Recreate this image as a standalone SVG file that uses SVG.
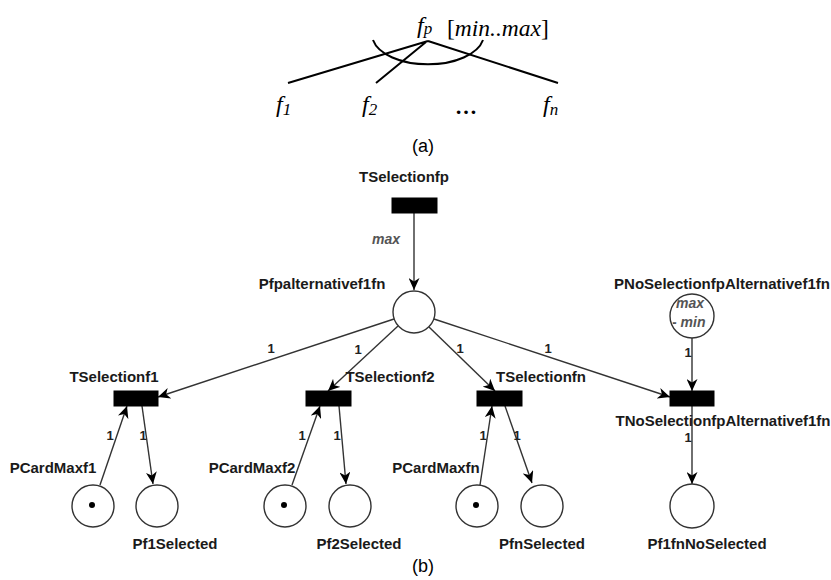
<svg xmlns="http://www.w3.org/2000/svg" width="831" height="580" viewBox="0 0 831 580">
<style>
.tm{font-family:"Liberation Serif","Times New Roman",serif;font-style:italic;fill:#000}
.tl{stroke:#000;stroke-width:2;fill:none}
.lbl{font-family:"Liberation Sans",Arial,sans-serif;font-weight:bold;font-size:15px;fill:#1a1a1a;text-anchor:middle}
.one{font-family:"Liberation Sans",Arial,sans-serif;font-weight:bold;font-size:13px;fill:#222;text-anchor:middle}
.gi{font-family:"Liberation Sans",Arial,sans-serif;font-weight:bold;font-style:italic;font-size:14px;fill:#555}
.pl{fill:#fff;stroke:#333;stroke-width:1.4}
.tr{fill:#000;stroke:#000;stroke-width:1}
.arc{stroke:#333;stroke-width:1.4;fill:none;marker-end:url(#ah)}
.cap{font-family:"Liberation Sans",Arial,sans-serif;font-size:18px;fill:#000;text-anchor:middle}
</style>
<defs>
<marker id="ah" markerUnits="userSpaceOnUse" markerWidth="13" markerHeight="11" refX="12" refY="5.5" orient="auto">
<path d="M0,0 L12,5.5 L0,11 L3.5,5.5 z" fill="#000"/>
</marker>
<clipPath id="pnclip"><circle cx="692" cy="316" r="21"/></clipPath>
</defs>

<g id="feature-model">
<text class="tm" x="417" y="33" font-size="24">f<tspan font-size="17" dy="1">p</tspan></text>
<text class="tm" x="447" y="36" font-size="23.5"><tspan font-style="normal">[</tspan>min..max<tspan font-style="normal">]</tspan></text>
<path class="tl" d="M428,41 L288,83 M426,42 L376,83 M428,41 L558,83"/>
<path class="tl" d="M373,40 A56,30 0 0 0 483,40"/>
<text class="tm" x="276" y="112" font-size="24">f<tspan font-size="17" dy="3">1</tspan></text>
<text class="tm" x="362" y="112" font-size="24">f<tspan font-size="17" dy="3">2</tspan></text>
<text x="466" y="114" font-family="Liberation Serif,serif" font-weight="bold" font-size="22" text-anchor="middle">…</text>
<text class="tm" x="543" y="112" font-size="24">f<tspan font-size="17" dy="3">n</tspan></text>
<text class="cap" x="423" y="152">(a)</text>
</g>

<g id="connectors">
<path class="arc" d="M414,213 L414,290"/>
<path class="arc" d="M394,319 L158,397"/>
<path class="arc" d="M398,326 L328,391"/>
<path class="arc" d="M429,327 L495,391"/>
<path class="arc" d="M434,319 L670,397"/>
<path class="arc" d="M692,338 L692,391"/>
<path class="arc" d="M692,406 L692,484"/>
<path class="arc" d="M100,485 L127,406"/>
<path class="arc" d="M142,406 L153,484"/>
<path class="arc" d="M292,485 L320,406"/>
<path class="arc" d="M339,406 L346,484"/>
<path class="arc" d="M480,485 L492,406"/>
<path class="arc" d="M505,406 L532,483"/>
<text class="gi" x="372" y="244">max</text>
<text class="one" x="271" y="353">1</text>
<text class="one" x="358" y="354">1</text>
<text class="one" x="460" y="353">1</text>
<text class="one" x="548" y="353">1</text>
<text class="one" x="688" y="357">1</text>
<text class="one" x="688" y="442">1</text>
<text class="one" x="110" y="440">1</text>
<text class="one" x="143" y="440">1</text>
<text class="one" x="302" y="440">1</text>
<text class="one" x="337" y="440">1</text>
<text class="one" x="483" y="440">1</text>
<text class="one" x="517" y="440">1</text>
</g>

<g id="TSelectionfp">
<rect class="tr" x="392" y="198" width="45" height="15"/>
<text class="lbl" x="404" y="182">TSelectionfp</text>
</g>
<g id="Pfpalternativef1fn">
<circle class="pl" cx="414" cy="312" r="21"/>
<text class="lbl" x="322" y="289">Pfpalternativef1fn</text>
</g>
<g id="PNoSelectionfpAlternativef1fn">
<circle class="pl" cx="692" cy="316" r="22"/>
<g clip-path="url(#pnclip)">
<text class="gi" x="676" y="308">max</text>
<text class="gi" x="672" y="327">- min</text>
</g>
<text class="lbl" x="722" y="289">PNoSelectionfpAlternativef1fn</text>
</g>
<g id="TSelectionf1">
<rect class="tr" x="114" y="391" width="44" height="15"/>
<text class="lbl" x="114" y="382">TSelectionf1</text>
</g>
<g id="TSelectionf2">
<rect class="tr" x="306" y="391" width="45" height="15"/>
<text class="lbl" x="390" y="382">TSelectionf2</text>
</g>
<g id="TSelectionfn">
<rect class="tr" x="477" y="391" width="45" height="15"/>
<text class="lbl" x="541" y="382">TSelectionfn</text>
</g>
<g id="TNoSelectionfpAlternativef1fn">
<rect class="tr" x="670" y="391" width="44" height="15"/>
<text class="lbl" x="723" y="426">TNoSelectionfpAlternativef1fn</text>
</g>
<g id="PCardMaxf1">
<circle class="pl" cx="93" cy="506" r="21"/>
<circle cx="92" cy="505" r="3" fill="#000"/>
<text class="lbl" x="53" y="473">PCardMaxf1</text>
</g>
<g id="Pf1Selected">
<circle class="pl" cx="157" cy="506" r="21"/>
<text class="lbl" x="175" y="549">Pf1Selected</text>
</g>
<g id="PCardMaxf2">
<circle class="pl" cx="285" cy="506" r="21"/>
<circle cx="284" cy="505" r="3" fill="#000"/>
<text class="lbl" x="252" y="473">PCardMaxf2</text>
</g>
<g id="Pf2Selected">
<circle class="pl" cx="350" cy="506" r="21"/>
<text class="lbl" x="359" y="549">Pf2Selected</text>
</g>
<g id="PCardMaxfn">
<circle class="pl" cx="477" cy="506" r="21"/>
<circle cx="476" cy="505" r="3" fill="#000"/>
<text class="lbl" x="436" y="473">PCardMaxfn</text>
</g>
<g id="PfnSelected">
<circle class="pl" cx="542" cy="506" r="21"/>
<text class="lbl" x="542" y="549">PfnSelected</text>
</g>
<g id="Pf1fnNoSelected">
<circle class="pl" cx="692" cy="506" r="22"/>
<text class="lbl" x="707" y="549">Pf1fnNoSelected</text>
</g>
<text class="cap" x="423" y="572">(b)</text>
</svg>
